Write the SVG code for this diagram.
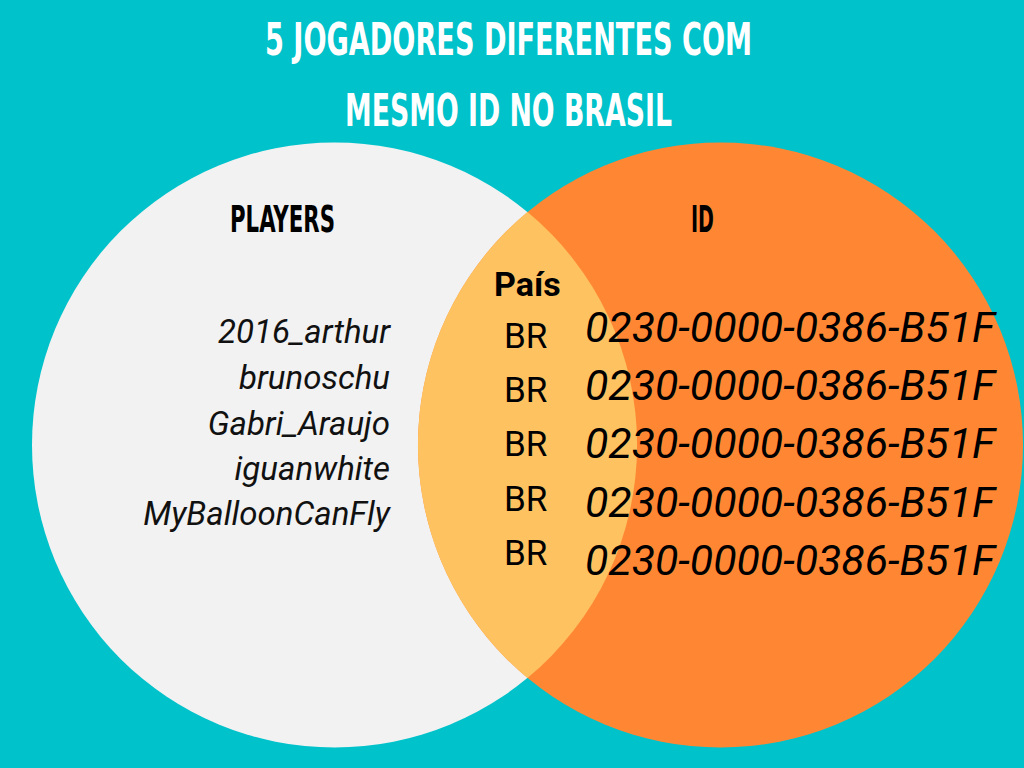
<svg xmlns="http://www.w3.org/2000/svg" width="1024" height="768" viewBox="0 0 1024 768">
<style>
.title{font-family:"Liberation Sans Narrow","DejaVu Sans Condensed","DejaVu Sans",sans-serif;font-weight:bold;font-size:45px;fill:#ffffff}
.head{font-family:"Liberation Sans Narrow","DejaVu Sans Condensed","DejaVu Sans",sans-serif;font-weight:bold;font-size:37px;fill:#000000}
.user{font-family:Roboto,"Liberation Sans",sans-serif;font-style:italic;font-size:33px;fill:#111111;text-anchor:end}
.pais{font-family:Roboto,"Liberation Sans",sans-serif;font-weight:bold;font-size:34px;fill:#000000}
.br{font-family:Roboto,"Liberation Sans",sans-serif;font-size:35px;fill:#000000}
.idv{font-family:Roboto,"Liberation Sans",sans-serif;font-style:italic;font-size:42px;fill:#000000}
</style>
<rect x="0" y="0" width="1024" height="768" fill="#00C2CA"/>
<g id="title">
<text class="title" x="265" y="55" textLength="487" lengthAdjust="spacingAndGlyphs">5 JOGADORES DIFERENTES COM</text>
<text class="title" x="345" y="126" textLength="327" lengthAdjust="spacingAndGlyphs">MESMO ID NO BRASIL</text>
</g>
<g id="players">
<circle cx="334.5" cy="445" r="302.5" fill="#F2F2F2"/>
<text class="head" x="230" y="232" textLength="105" lengthAdjust="spacingAndGlyphs">PLAYERS</text>
<text class="user" x="390" y="343">2016_arthur</text>
<text class="user" x="390" y="389">brunoschu</text>
<text class="user" x="390" y="435">Gabri_Araujo</text>
<text class="user" x="390" y="480">iguanwhite</text>
<text class="user" x="390" y="525">MyBalloonCanFly</text>
</g>
<g id="id">
<circle cx="720.5" cy="445" r="302.5" fill="#FF8733"/>
<text class="head" x="691" y="232" textLength="23" lengthAdjust="spacingAndGlyphs">ID</text>
</g>
<g id="pais">
<path d="M527.5 212 A302.5 302.5 0 0 0 527.5 678 A302.5 302.5 0 0 0 527.5 212 Z" fill="#FFC261"/>
<text class="pais" x="494" y="296">País</text>
<text class="br" x="504" y="348">BR</text>
<text class="br" x="504" y="402">BR</text>
<text class="br" x="504" y="456">BR</text>
<text class="br" x="504" y="511">BR</text>
<text class="br" x="504" y="565">BR</text>
</g>
<g id="ids">
<text class="idv" x="585" y="342" textLength="410" lengthAdjust="spacingAndGlyphs">0230-0000-0386-B51F</text>
<text class="idv" x="585" y="400" textLength="410" lengthAdjust="spacingAndGlyphs">0230-0000-0386-B51F</text>
<text class="idv" x="585" y="458" textLength="410" lengthAdjust="spacingAndGlyphs">0230-0000-0386-B51F</text>
<text class="idv" x="585" y="517" textLength="410" lengthAdjust="spacingAndGlyphs">0230-0000-0386-B51F</text>
<text class="idv" x="585" y="575" textLength="410" lengthAdjust="spacingAndGlyphs">0230-0000-0386-B51F</text>
</g>
<g id="connectors"/>
</svg>
